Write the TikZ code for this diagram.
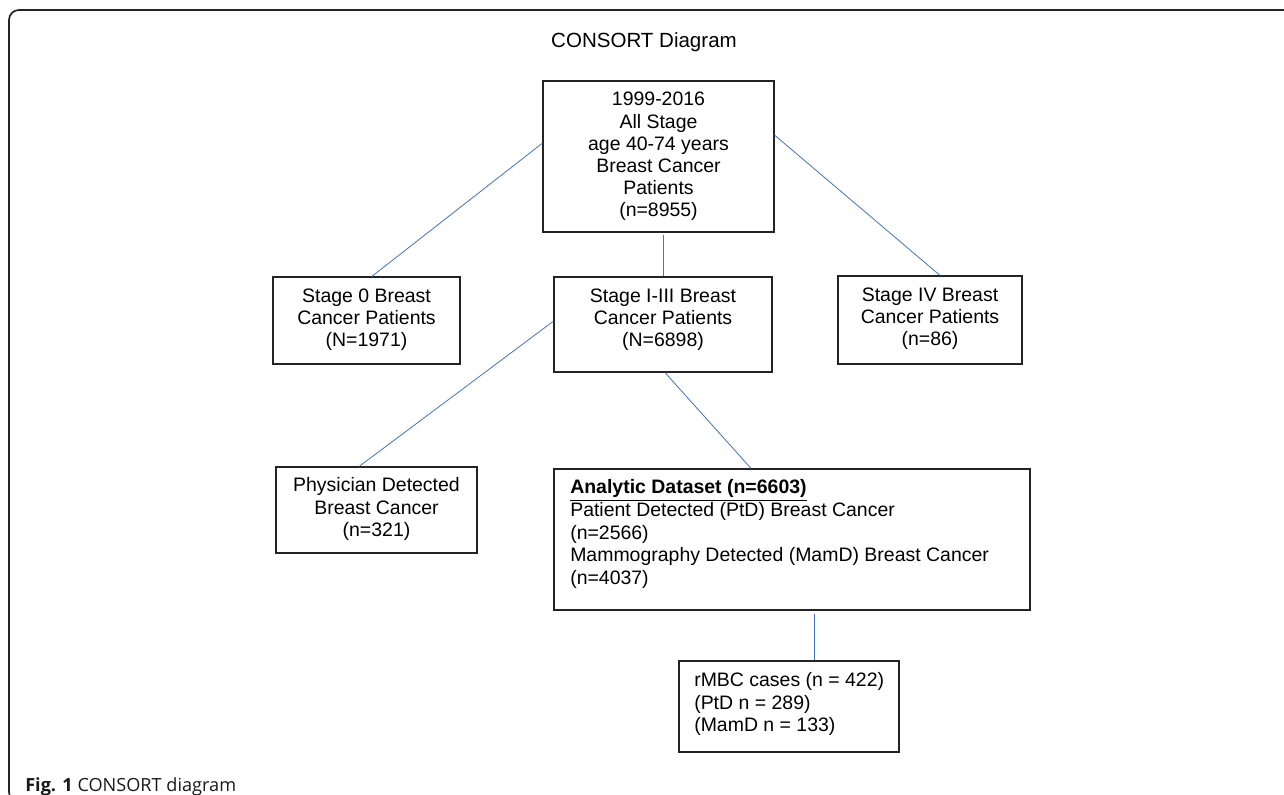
\documentclass[tikz,border=0pt]{standalone}
\usepackage{fontspec}
\setmainfont{Liberation Sans}
\newfontfamily\capfont{Open Sans}
\usetikzlibrary{calc}
\definecolor{linkblue}{RGB}{68,114,196}
\definecolor{boxgray}{RGB}{35,35,35}
\tikzset{
  boxnode/.style={draw=boxgray, line width=0.9pt, rectangle, inner sep=0pt},
  txt/.style={align=center, inner sep=0pt, font=\fontsize{14.6pt}{16.6pt}\selectfont},
  ltxt/.style={align=left, inner sep=0pt, anchor=west, font=\fontsize{14.6pt}{16.9pt}\selectfont},
  link/.style={draw=linkblue, line width=0.6pt},
  frame/.style={draw=black!85, line width=1.3pt, rounded corners=7.5pt}
}
\begin{document}
\begin{tikzpicture}[x=0.75pt, y=-0.75pt]
\useasboundingbox (0,0) rectangle (1284,795);
\clip (0,0) rectangle (1284,795);
\fill[white] (0,0) rectangle (1284,795);
\draw[frame] (1300,10) -- (9,10) -- (9,802) -- (60,802);

\node[inner sep=0pt, font=\fontsize{15.4pt}{18pt}\selectfont] (title) at (644,42) {CONSORT Diagram};

% boxes
\node[boxnode, minimum width=173.25pt, minimum height=113.25pt] (top) at (658.5,156.5) {};
\node[boxnode, minimum width=140.25pt, minimum height=65.25pt] (s0) at (366.5,320.5) {};
\node[boxnode, minimum width=163.5pt, minimum height=71.25pt] (s13) at (663,324.5) {};
\node[boxnode, minimum width=138pt, minimum height=66pt] (s4) at (930,320) {};
\node[boxnode, minimum width=150.75pt, minimum height=64.5pt] (phys) at (376.5,510) {};
\node[boxnode, minimum width=357pt, minimum height=105.75pt] (anal) at (792,539.5) {};
\node[boxnode, minimum width=165pt, minimum height=68.25pt] (rmbc) at (789,706.5) {};

% texts
\node[txt] (ttop) at (658.5,156.5) {1999-2016\\All Stage\\age 40-74 years\\Breast Cancer\\Patients\\(n=8955)};
\node[txt] (ts0) at (366.5,319.5) {Stage 0 Breast\\Cancer Patients\\(N=1971)};
\node[txt] (ts13) at (663,319.5) {Stage I-III Breast\\Cancer Patients\\(N=6898)};
\node[txt] (ts4) at (930,319) {Stage IV Breast\\Cancer Patients\\(n=86)};
\node[txt] (tphys) at (376.5,509) {Physician Detected\\Breast Cancer\\(n=321)};
\node[ltxt] (tanal) at (570,534) {\underline{\textbf{Analytic Dataset (n=6603)}}\\Patient Detected (PtD) Breast Cancer\\(n=2566)\\Mammography Detected (MamD) Breast Cancer\\(n=4037)};
\node[ltxt] (trmbc) at (694,704) {rMBC cases (n = 422)\\(PtD n = 289)\\(MamD n = 133)};

% connectors
\draw[link] ([yshift=10pt]top.west) -- ([xshift=4pt]s0.north);
\draw[link] ([yshift=16pt]top.east) -- ([xshift=7.5pt]s4.north);
\coordinate (tb) at ([yshift=-1.5pt]top.south);
\draw[link] (tb -| s13.north) -- (s13.north);
\draw[link] ([yshift=2.5pt]s13.west) -- ([xshift=-13pt]phys.north);
\draw[link] ([xshift=1.5pt]s13.south) -- ([xshift=-30.75pt]anal.north);
\coordinate (r1) at ([xshift=18.75pt]rmbc.north);
\coordinate (a0) at ([yshift=-2.25pt]anal.south);
\draw[link] (a0 -| r1) -- (r1);

% caption
\node[anchor=base west, inner sep=0pt, font=\capfont\fontsize{13.6pt}{16pt}\selectfont, text=black!90] (cap) at (25,791) {\textbf{Fig. 1} CONSORT diagram};
\end{tikzpicture}
\end{document}
